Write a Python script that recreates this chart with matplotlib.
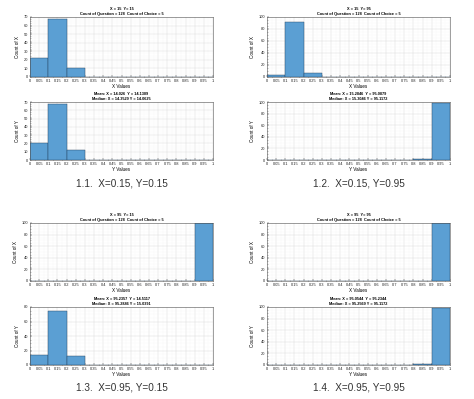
import numpy as np
import matplotlib.pyplot as plt

plt.rcParams['font.family'] = ['Liberation Sans', 'DejaVu Sans']

# histogram bin edges (0 to 1, step 0.1)
bin_edges = [0, 0.1, 0.2, 0.3, 0.4, 0.5, 0.6, 0.7, 0.8, 0.9, 1.0]

# counts per bin, one list per subplot
x_counts_11 = [22, 68, 10, 0, 0, 0, 0, 0, 0, 0]
y_counts_11 = [21, 67, 12, 0, 0, 0, 0, 0, 0, 0]
x_counts_12 = [3, 91, 6, 0, 0, 0, 0, 0, 0, 0]
y_counts_12 = [0, 0, 0, 0, 0, 0, 0, 0, 2, 98]
x_counts_13 = [0, 0, 0, 0, 0, 0, 0, 0, 0, 100]
y_counts_13 = [14, 74, 12, 0, 0, 0, 0, 0, 0, 0]
x_counts_14 = [0, 0, 0, 0, 0, 0, 0, 0, 0, 100]
y_counts_14 = [0, 0, 0, 0, 0, 0, 0, 0, 1, 99]

top_titles = ['X = 15  Y= 15', 'X = 15  Y= 95', 'X = 95  Y= 15', 'X = 95  Y= 95']
count_line = 'Count of Question = 128  Count of Choice = 5'
mean_lines = ['Mean: X = 14.026  Y = 14.1309', 'Mean: X = 15.2846  Y = 95.0879',
              'Mean: X = 95.2357  Y = 14.5117', 'Mean: X = 95.0544  Y = 95.2344']
median_lines = ['Median: X = 14.3529 Y = 14.0625', 'Median: X = 15.3046 Y = 95.1172',
                'Median: X = 95.2886 Y = 15.0391', 'Median: X = 95.2569 Y = 95.1172']
captions = ['1.1.  X=0.15, Y=0.15', '1.2.  X=0.15, Y=0.95',
            '1.3.  X=0.95, Y=0.15', '1.4.  X=0.95, Y=0.95']

x_counts = [x_counts_11, x_counts_12, x_counts_13, x_counts_14]
y_counts = [y_counts_11, y_counts_12, y_counts_13, y_counts_14]
x_ylims = [70, 100, 100, 100]
y_ylims = [70, 100, 80, 100]

xtick_vals = np.round(np.arange(0, 1.0001, 0.05), 2)
xtick_labels = ['%g' % v for v in xtick_vals]

bar_color = '#5b9fd3'

W, H = 474, 399
fig = plt.figure(figsize=(W / 100, H / 100), dpi=100)


def px_axes(x0, y0, x1, y1):
    return fig.add_axes([x0 / W, 1 - y1 / H, (x1 - x0) / W, (y1 - y0) / H])


def style(ax, ymax, label):
    ax.set_xlim(0, 1)
    ax.set_ylim(0, ymax)
    step = 10 if ymax <= 70 else 20
    ax.set_yticks(np.arange(0, ymax + 1, step))
    ax.set_xticks(xtick_vals)
    ax.set_xticklabels(xtick_labels)
    ax.set_xticks(np.arange(0, 1.0001, 0.025), minor=True)
    ax.set_yticks(np.arange(0, ymax + 1, step / 4), minor=True)
    ax.tick_params(which='both', direction='in', length=1.2, width=0.3,
                   labelsize=2.9, pad=1.5, colors='#262626')
    ax.tick_params(which='minor', length=0.6)
    ax.grid(True, which='major', color='#dcdcdc', lw=0.35)
    ax.grid(True, which='minor', color='#eeeeee', lw=0.3, ls=':')
    ax.set_axisbelow(True)
    for s in ax.spines.values():
        s.set_linewidth(0.4)
        s.set_color('#555555')
    ax.set_xlabel(label + ' Values', fontsize=3.3, labelpad=1)
    ax.set_ylabel('Count of ' + label, fontsize=3.3, labelpad=2.5)


# column x extents and row y extents (pixels)
cols = [(30, 213), (267, 450)]
rows = [((17, 77), (102, 160), 184), ((223, 281), (307, 365), 387)]

for i in range(4):
    r, c = divmod(i, 2)
    x0, x1 = cols[c]
    (ty0, ty1), (by0, by1), cap_y = rows[r]

    ax_top = px_axes(x0, ty0, x1, ty1)
    ax_top.bar(bin_edges[:-1], x_counts[i], width=0.1, align='edge',
               color=bar_color, edgecolor='#1f3b57', linewidth=0.3)
    style(ax_top, x_ylims[i], 'X')
    ax_top.set_title(top_titles[i] + '\n' + count_line, fontsize=2.8,
                     fontweight='bold', pad=1.5, linespacing=1.15)

    ax_bot = px_axes(x0, by0, x1, by1)
    ax_bot.bar(bin_edges[:-1], y_counts[i], width=0.1, align='edge',
               color=bar_color, edgecolor='#1f3b57', linewidth=0.3)
    style(ax_bot, y_ylims[i], 'Y')
    ax_bot.set_title(mean_lines[i] + '\n' + median_lines[i], fontsize=2.8,
                     fontweight='bold', pad=1.5, linespacing=1.15)

    fig.text((x0 + x1) / 2 / W, 1 - cap_y / H, captions[i], ha='center',
             va='center', fontsize=7.2, color='#333333')

fig.savefig('out.png', dpi=100)
